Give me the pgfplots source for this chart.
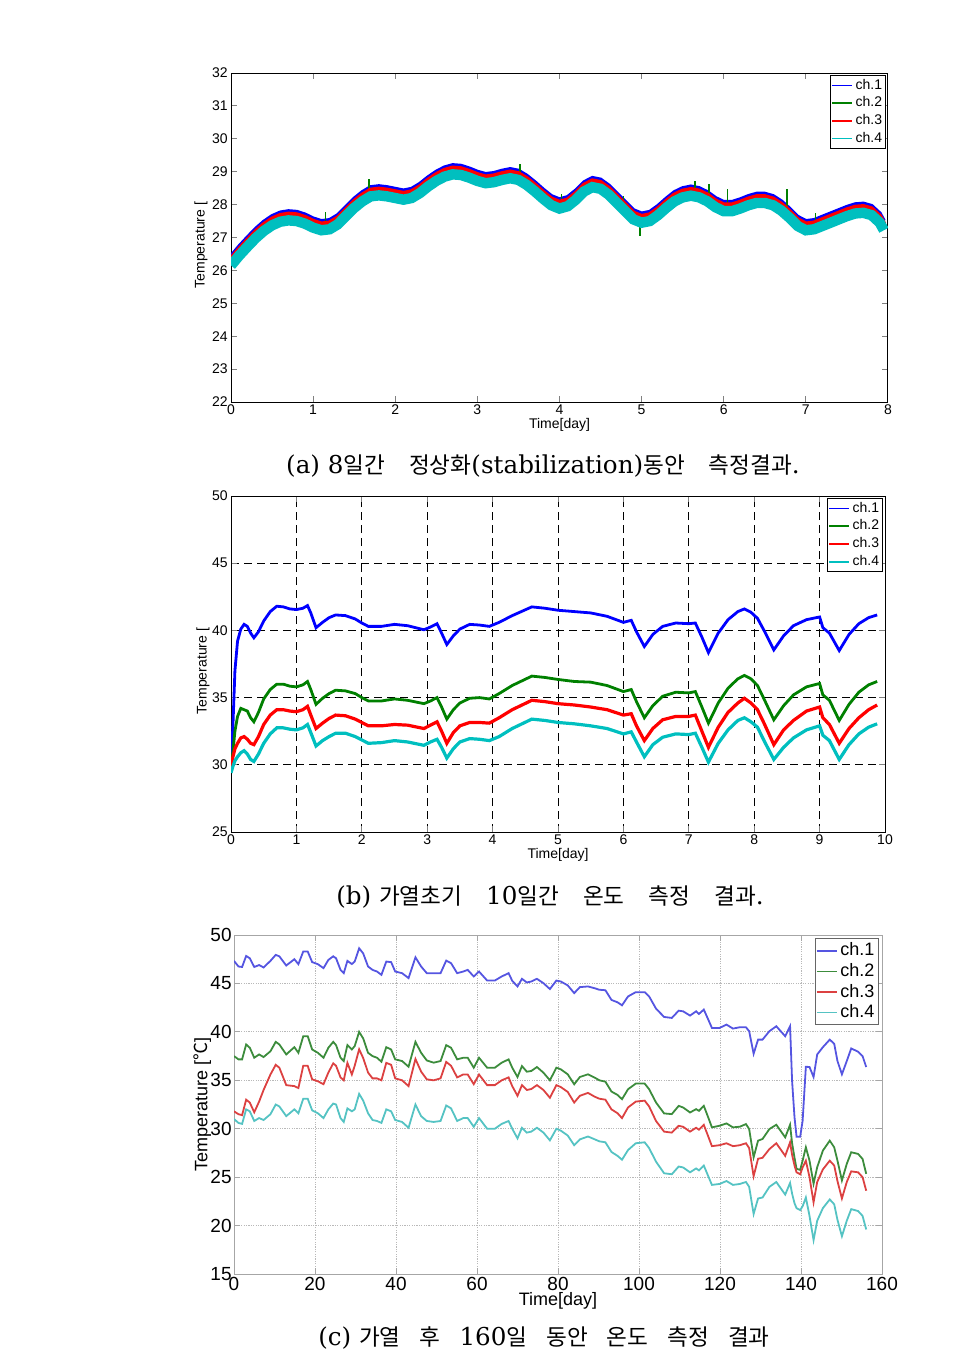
\documentclass[border=0pt]{standalone}
\usepackage{fontspec}
\setmainfont{Liberation Sans}
\newfontfamily\capserif{DejaVu Serif}
\newfontfamily\cjk{Noto Sans CJK KR}
\usepackage{pgfplots}
\usepackage{pgfplotstable}
\pgfplotsset{compat=1.18}

\newcommand\lat[1]{{\capserif\fontsize{12.3}{14}\selectfont #1}}
\newcommand\han[1]{{\cjk\fontsize{11.3}{14}\selectfont #1}}

\definecolor{mblue}{RGB}{0,0,255}
\definecolor{mgreen}{RGB}{0,128,0}
\definecolor{mred}{RGB}{255,0,0}
\definecolor{mcyan}{RGB}{0,191,191}
\definecolor{cblue}{RGB}{85,85,225}
\definecolor{cgreen}{RGB}{60,140,60}
\definecolor{cred}{RGB}{220,65,65}
\definecolor{ccyan}{RGB}{85,195,195}

% (a) 8 days stabilization
\pgfplotstableread{
x c1 c2 c3 c4
0.0 26.43 26.25 26.34 26.15
0.1 26.73 26.55 26.64 26.45
0.2 27.00 26.82 26.91 26.72
0.3 27.26 27.08 27.17 26.98
0.4 27.48 27.30 27.39 27.20
0.5 27.65 27.47 27.56 27.37
0.6 27.76 27.58 27.67 27.48
0.7 27.80 27.62 27.71 27.52
0.8 27.78 27.60 27.69 27.50
0.9 27.70 27.52 27.61 27.42
1.0 27.58 27.40 27.49 27.30
1.1 27.50 27.32 27.41 27.22
1.2 27.53 27.35 27.44 27.25
1.3 27.68 27.50 27.59 27.40
1.4 27.93 27.75 27.84 27.65
1.5 28.18 28.00 28.09 27.90
1.6 28.38 28.20 28.29 28.10
1.7 28.53 28.35 28.44 28.25
1.8 28.56 28.38 28.47 28.28
1.9 28.53 28.35 28.44 28.25
2.0 28.48 28.30 28.39 28.20
2.1 28.43 28.25 28.34 28.15
2.2 28.48 28.30 28.39 28.20
2.3 28.63 28.45 28.54 28.35
2.4 28.83 28.65 28.74 28.55
2.5 29.00 28.82 28.91 28.72
2.6 29.13 28.95 29.04 28.85
2.7 29.20 29.02 29.11 28.92
2.8 29.18 29.00 29.09 28.90
2.9 29.10 28.92 29.01 28.82
3.0 29.00 28.82 28.91 28.72
3.1 28.93 28.75 28.84 28.65
3.2 28.96 28.78 28.87 28.68
3.3 29.03 28.85 28.94 28.75
3.4 29.08 28.90 28.99 28.80
3.5 29.03 28.85 28.94 28.75
3.6 28.88 28.70 28.79 28.60
3.7 28.68 28.50 28.59 28.40
3.8 28.46 28.28 28.37 28.18
3.9 28.26 28.08 28.17 27.98
4.0 28.16 27.98 28.07 27.88
4.1 28.23 28.05 28.14 27.95
4.2 28.43 28.25 28.34 28.15
4.3 28.68 28.50 28.59 28.40
4.4 28.81 28.63 28.72 28.53
4.5 28.76 28.58 28.67 28.48
4.6 28.58 28.40 28.49 28.30
4.7 28.33 28.15 28.24 28.05
4.8 28.08 27.90 27.99 27.80
4.9 27.83 27.65 27.74 27.55
5.0 27.73 27.55 27.64 27.45
5.1 27.78 27.60 27.69 27.50
5.2 27.96 27.78 27.87 27.68
5.3 28.18 28.00 28.09 27.90
5.4 28.38 28.20 28.29 28.10
5.5 28.50 28.32 28.41 28.22
5.6 28.55 28.37 28.46 28.27
5.7 28.50 28.32 28.41 28.22
5.8 28.38 28.20 28.29 28.10
5.9 28.20 28.02 28.11 27.92
6.0 28.08 27.90 27.99 27.80
6.1 28.08 27.90 27.99 27.80
6.2 28.16 27.98 28.07 27.88
6.3 28.26 28.08 28.17 27.98
6.4 28.33 28.15 28.24 28.05
6.5 28.33 28.15 28.24 28.05
6.6 28.26 28.08 28.17 27.98
6.7 28.10 27.92 28.01 27.82
6.8 27.88 27.70 27.79 27.60
6.9 27.63 27.45 27.54 27.35
7.0 27.50 27.32 27.41 27.22
7.1 27.53 27.35 27.44 27.25
7.2 27.63 27.45 27.54 27.35
7.3 27.73 27.55 27.64 27.45
7.4 27.83 27.65 27.74 27.55
7.5 27.93 27.75 27.84 27.65
7.6 28.01 27.83 27.92 27.73
7.7 28.03 27.85 27.94 27.75
7.8 27.96 27.78 27.87 27.68
7.9 27.73 27.55 27.64 27.45
7.95 27.50 27.32 27.41 27.22
}\tabA

% (b) first 10 days of heating
\pgfplotstableread{
x c1 c2 c3 c4
0 29.8 29.9 29.8 29.4
0.03 33.0 31.0 30.6 29.9
0.06 37.0 32.5 31.2 30.3
0.1 39.2 33.6 31.6 30.6
0.15 40.1 34.2 32.0 30.9
0.2 40.45 34.1 32.1 31.05
0.25 40.3 34.0 31.9 30.8
0.3 39.8 33.5 31.6 30.4
0.35 39.45 33.2 31.5 30.25
0.42 39.9 33.9 32.1 30.8
0.5 40.7 34.9 33.0 31.6
0.6 41.4 35.6 33.7 32.3
0.7 41.8 36.0 34.1 32.75
0.8 41.75 36.0 34.1 32.75
0.9 41.6 35.85 34.0 32.65
1.0 41.55 35.8 33.95 32.6
1.1 41.65 35.95 34.1 32.75
1.17 41.85 36.2 34.35 33.0
1.22 41.3 35.6 33.7 32.4
1.3 40.2 34.5 32.7 31.4
1.4 40.6 34.95 33.1 31.8
1.5 40.95 35.3 33.45 32.1
1.6 41.15 35.55 33.7 32.35
1.75 41.1 35.5 33.65 32.35
1.9 40.85 35.3 33.4 32.1
2.0 40.55 35.0 33.15 31.85
2.1 40.3 34.75 32.9 31.6
2.3 40.3 34.75 32.9 31.65
2.5 40.45 34.9 33.0 31.8
2.7 40.35 34.8 32.95 31.7
2.95 40.05 34.55 32.7 31.45
3.05 40.25 34.75 32.95 31.7
3.15 40.5 35.0 33.2 31.9
3.22 39.8 34.3 32.5 31.3
3.3 38.95 33.4 31.6 30.5
3.4 39.6 34.1 32.4 31.2
3.5 40.1 34.6 32.9 31.7
3.65 40.45 34.95 33.15 31.95
3.8 40.4 35.0 33.15 31.9
3.95 40.3 34.9 33.1 31.8
4.1 40.6 35.3 33.5 32.1
4.3 41.1 35.9 34.1 32.7
4.6 41.75 36.6 34.8 33.4
4.8 41.65 36.5 34.7 33.3
5.0 41.5 36.35 34.55 33.15
5.25 41.4 36.2 34.45 33.05
5.5 41.3 36.15 34.3 32.9
5.75 41.05 35.9 34.1 32.7
6.0 40.6 35.45 33.7 32.3
6.12 40.75 35.6 33.8 32.45
6.2 39.9 34.7 32.9 31.7
6.32 38.8 33.5 31.8 30.6
6.45 39.7 34.4 32.7 31.5
6.6 40.3 35.1 33.35 32.05
6.8 40.55 35.4 33.6 32.3
7.0 40.5 35.35 33.6 32.25
7.1 40.55 35.45 33.7 32.35
7.2 39.5 34.3 32.5 31.3
7.3 38.35 33.1 31.3 30.2
7.45 39.8 34.6 32.8 31.6
7.6 40.8 35.7 33.9 32.6
7.75 41.4 36.4 34.6 33.3
7.85 41.6 36.65 34.95 33.5
7.95 41.35 36.4 34.6 33.2
8.05 40.9 35.9 34.1 32.8
8.15 40.0 34.9 33.1 31.8
8.3 38.55 33.35 31.5 30.4
8.45 39.6 34.4 32.6 31.3
8.6 40.35 35.2 33.3 32.0
8.8 40.8 35.8 34.0 32.6
9.0 41.0 36.05 34.3 32.9
9.05 40.2 35.2 33.5 32.2
9.15 39.8 34.8 33.0 31.8
9.3 38.5 33.3 31.6 30.4
9.45 39.7 34.5 32.7 31.5
9.6 40.5 35.4 33.5 32.3
9.75 40.95 35.95 34.1 32.8
9.88 41.15 36.2 34.45 33.05
}\tabB

% (c) 160 days after heating
\pgfplotstableread{
x c1 c2 c3 c4
0 47.33 37.5 31.8 31.0
1.1 46.75 37.16 31.5 30.6
2 46.7 37.16 31.4 30.5
3 47.84 38.7 33.0 32.0
3.9 47.6 38.36 32.7 31.8
5 46.7 37.33 31.7 30.8
6.2 46.9 37.67 32.8 31.1
7.3 46.65 37.4 34.0 30.9
9 47.33 38.0 35.6 31.5
10.3 47.95 38.97 36.6 32.5
11.2 47.8 38.7 36.3 32.3
12.9 46.85 37.67 34.5 31.3
14.9 47.5 38.42 34.4 32.0
15.9 46.99 37.84 34.2 31.6
17.1 48.3 39.55 36.5 33.1
18.2 48.3 39.55 36.5 33.1
19.3 47.2 38.18 35.1 31.9
20.7 46.99 37.84 34.9 31.6
22.1 46.58 37.33 34.6 31.1
23.3 47.43 38.36 35.8 32.0
24.5 47.8 38.97 36.75 32.6
25.2 47.6 38.63 36.5 32.5
26.3 46.4 37.33 35.3 31.1
27.1 46.06 36.99 35.0 30.7
28 47.33 38.63 36.8 32.1
29.1 47.0 38.18 35.6 31.8
29.8 47.26 38.53 36.5 32.0
30.9 48.63 40.0 38.2 33.6
31.9 48.1 39.32 37.3 32.9
33.1 46.75 37.84 35.8 31.6
34.2 46.4 37.5 35.2 30.9
35.3 46.23 37.33 35.2 30.8
36.4 45.89 36.92 35.0 30.6
37.6 47.26 38.42 36.8 32.0
38.8 47.2 38.18 36.6 31.8
39.8 46.23 37.16 35.2 30.9
41.5 46.06 36.99 35.0 30.7
43.1 45.55 36.4 34.4 30.1
44.8 47.7 38.97 37.2 32.5
46.2 46.75 37.84 35.9 31.3
47.6 46.06 37.05 35.1 30.8
49.3 46.06 36.82 35.0 30.7
51 46.06 36.99 35.2 30.8
52.4 47.36 38.63 36.9 32.4
53.6 47.09 38.36 36.5 32.1
55.1 46.06 37.16 35.3 30.8
56.6 46.23 37.33 35.6 31.1
57.7 46.4 37.33 35.6 31.1
59.2 45.72 36.3 34.6 30.2
60.5 46.23 37.33 35.6 31.1
62.5 45.3 36.3 34.5 30.0
64.4 45.3 36.3 34.5 30.0
66.1 45.72 36.82 35.0 30.5
67.8 46.06 37.16 35.3 30.8
68.7 45.27 36.3 34.4 30.0
70 44.69 35.34 33.4 29.0
71.1 45.48 36.47 34.5 30.1
72.3 45.1 35.89 34.0 29.6
73.4 45.2 35.96 34.1 29.7
74.8 45.48 36.37 34.5 30.1
76.4 45.03 35.79 34.0 29.6
78 44.42 35.0 33.2 28.8
79.6 45.3 36.3 34.5 30.0
80.7 45.2 36.13 34.3 29.8
82.4 44.8 35.62 33.8 29.3
84 44.0 34.59 32.7 28.3
85.4 44.62 35.34 33.4 28.9
87.4 44.69 35.62 33.7 29.2
89.1 44.5 35.27 33.3 28.9
90.2 44.35 35.0 33.1 28.7
91.7 44.3 34.86 33.0 28.6
93.2 43.3 33.84 32.0 27.6
94.7 43.05 33.49 31.6 27.2
95.8 42.74 33.05 31.1 26.8
97.3 43.66 34.08 32.2 27.8
99.2 44.1 34.66 32.8 28.5
101.4 44.1 34.66 32.9 28.6
102.5 43.66 34.08 32.3 28.0
104.2 42.4 32.71 30.8 26.6
106.2 41.54 31.58 29.7 25.4
108.1 41.44 31.51 29.6 25.3
109.8 42.19 32.36 30.3 26.1
110.9 42.12 32.19 30.2 26.0
112.6 41.68 31.68 29.7 25.5
114.1 42.12 32.02 30.1 25.9
114.8 41.85 31.85 29.9 25.7
116 42.3 32.36 30.4 26.2
117.1 41.27 31.16 29.2 25.1
118 40.41 30.14 28.2 24.2
119.9 40.41 30.31 28.3 24.3
121.6 40.75 30.55 28.5 24.6
123.2 40.34 30.14 28.2 24.2
124.9 40.48 30.21 28.3 24.3
126.4 40.48 30.48 28.5 24.5
127.2 40.07 29.97 28.0 24.0
128.3 37.74 27.05 25.1 21.2
129.4 39.2 28.77 26.9 22.8
130.5 39.2 28.94 27.0 22.9
132.2 40.07 29.97 27.9 24.0
133.9 40.58 30.41 28.5 24.5
136.1 39.55 29.11 27.2 23.2
137.3 40.58 30.41 28.6 24.4
137.8 34.93 28.5 27.3 23.3
138.4 31.16 27.0 26.2 22.3
138.9 29.18 25.86 25.5 21.8
139.8 29.18 25.75 25.3 21.6
140.4 30.82 26.71 26.0 22.0
141.2 36.4 28.08 26.7 22.9
142.1 36.37 26.71 25.0 21.0
143.1 35.34 24.32 22.4 18.5
144 37.67 26.03 24.5 20.5
145.4 38.42 27.74 25.8 21.8
147.1 39.2 28.77 26.7 22.7
148.2 38.77 28.08 26.2 22.2
149 36.99 26.71 24.6 20.6
150.1 35.62 24.66 22.8 18.9
151.3 36.99 26.37 24.5 20.5
152.4 38.29 27.57 25.6 21.7
154.1 37.95 27.4 25.5 21.5
155.2 37.5 26.88 25.0 21.0
156.1 36.37 25.34 23.6 19.6
}\tabC

\pgfplotsset{
  matfig/.style={
    scale only axis,
    anchor=south west,
    axis line style={line width=0.5pt},
    tick style={line width=0.5pt},
    major tick length=3pt,
    tick align=inside,
    /pgf/number format/assume math mode=true,
    legend cell align=left,
    legend image code/.code={\draw[##1, line width=0.8pt] (0pt,0pt) -- (10pt,0pt);},
  },
}

\begin{document}
\begin{tikzpicture}
\path[use as bounding box] (0pt,0pt) rectangle (488pt,-682.5pt);

% ---------- (a) ----------
\begin{axis}[matfig,
  at={(115.5pt,-201pt)}, width=328.5pt, height=164.5pt,
  xmin=0, xmax=8, ymin=22, ymax=32,
  xtick={0,...,8}, ytick={22,...,32},
  tick label style={font=\fontsize{7}{8}\selectfont},
  xticklabel style={inner sep=1pt},
  yticklabel style={inner sep=1.5pt},
  xlabel={Time[day]}, ylabel={Temperature [},
  xlabel style={font=\fontsize{7}{8}\selectfont, at={(axis description cs:0.5,-0.07)}, anchor=center},
  ylabel style={font=\fontsize{7}{8}\selectfont, at={(axis description cs:-0.0457,0.477)}, anchor=center},
  legend style={at={(axis description cs:0.997,0.994)}, anchor=north east,
    font=\fontsize{7}{8}\selectfont, inner sep=0.5pt, row sep=-0.1pt,
    draw=black, line width=0.5pt, nodes={inner sep=1.2pt}},
]
\addplot[mblue, line width=2pt] table[x=x, y=c1] {\tabA};
\addlegendentry{ch.1}
\addplot[mgreen, line width=1pt] table[x=x, y=c2] {\tabA};
\addlegendentry{ch.2}
\addplot[mgreen, line width=0.6pt, forget plot, unbounded coords=jump] coordinates {
 (1.15,27.3) (1.15,27.78) (1.15,nan)
 (1.68,28.3) (1.68,28.78) (1.68,nan)
 (3.52,28.8) (3.52,29.22) (3.52,nan)
 (4.02,27.9) (4.02,28.32) (4.02,nan)
 (4.78,27.9) (4.78,28.25) (4.78,nan)
 (4.98,27.5) (4.98,27.05) (4.98,nan)
 (5.65,28.3) (5.65,28.72) (5.65,nan)
 (5.82,28.2) (5.82,28.62) (5.82,nan)
 (6.05,27.9) (6.05,28.47) (6.05,nan)
 (6.77,27.9) (6.77,28.48) (6.77,nan)
 (7.12,27.3) (7.12,27.75)
};
\addplot[mred, line width=2.5pt] table[x=x, y=c3] {\tabA};
\addlegendentry{ch.3}
\addplot[mcyan, line width=5.2pt] table[x=x, y=c4] {\tabA};
\addlegendentry{ch.4}
\end{axis}

% ---------- (b) ----------
\begin{axis}[matfig,
  at={(115.5pt,-416pt)}, width=327pt, height=168pt,
  xmin=0, xmax=10, ymin=25, ymax=50,
  xtick={0,...,10}, ytick={25,30,...,50},
  grid=major, major grid style={black, line width=0.5pt, dash pattern=on 4pt off 2.5pt},
  tick label style={font=\fontsize{7}{8}\selectfont},
  xticklabel style={inner sep=1pt},
  yticklabel style={inner sep=1.5pt},
  xlabel={Time[day]}, ylabel={Temperature [},
  xlabel style={font=\fontsize{7}{8}\selectfont, at={(axis description cs:0.5,-0.068)}, anchor=center},
  ylabel style={font=\fontsize{7}{8}\selectfont, at={(axis description cs:-0.043,0.479)}, anchor=center},
  legend style={at={(axis description cs:0.997,0.994)}, anchor=north east,
    font=\fontsize{7}{8}\selectfont, inner sep=0.5pt, row sep=-0.1pt,
    draw=black, line width=0.5pt, nodes={inner sep=1.2pt}},
]
\addplot[mblue, line width=1.4pt] table[x=x, y=c1] {\tabB};
\addlegendentry{ch.1}
\addplot[mgreen, line width=1.4pt] table[x=x, y=c2] {\tabB};
\addlegendentry{ch.2}
\addplot[mred, line width=1.6pt] table[x=x, y=c3] {\tabB};
\addlegendentry{ch.3}
\addplot[mcyan, line width=1.6pt] table[x=x, y=c4] {\tabB};
\addlegendentry{ch.4}
\end{axis}

% ---------- (c) ----------
\begin{axis}[matfig,
  at={(117pt,-637pt)}, width=324pt, height=169.5pt,
  xmin=0, xmax=160, ymin=15, ymax=50,
  xtick={0,20,...,160}, ytick={15,20,...,50},
  axis line style={gray!70, line width=0.5pt},
  tick style={gray!70},
  grid=major, major grid style={gray!55, line width=0.5pt, dash pattern=on 0.6pt off 0.6pt},
  tick label style={font=\fontsize{9.5}{10}\selectfont},
  xticklabel style={inner sep=1.5pt},
  yticklabel style={inner sep=1pt},
  xlabel={Time[day]}, ylabel={Temperature [{\cjk ℃}]},
  xlabel style={font=\fontsize{9}{10}\selectfont, at={(axis description cs:0.5,-0.08)}, anchor=center},
  ylabel style={font=\fontsize{9}{10}\selectfont, at={(axis description cs:-0.049,0.5)}, anchor=center},
  legend style={at={(axis description cs:0.995,0.99)}, anchor=north east,
    font=\fontsize{9}{10}\selectfont, inner sep=0.5pt, row sep=-0.5pt,
    draw=gray!80!black, line width=0.5pt, nodes={inner sep=1.4pt}},
]
\addplot[cblue, line width=0.9pt] table[x=x, y=c1] {\tabC};
\addlegendentry{ch.1}
\addplot[cgreen, line width=0.9pt] table[x=x, y=c2] {\tabC};
\addlegendentry{ch.2}
\addplot[cred, line width=0.9pt] table[x=x, y=c3] {\tabC};
\addlegendentry{ch.3}
\addplot[ccyan, line width=0.9pt] table[x=x, y=c4] {\tabC};
\addlegendentry{ch.4}
\end{axis}

% ---------- captions ----------
\node[anchor=center, inner sep=0pt] at (271.5pt,-233pt)
  {\lat{(a) 8}\han{일간}\hspace{12pt}\han{정상화}\lat{(stabilization)}\han{동안}\hspace{12pt}\han{측정결과}\lat{.}};
\node[anchor=center, inner sep=0pt] at (275pt,-448.5pt)
  {\lat{(b) }\han{가열초기}\hspace{12pt}\lat{10}\han{일간}\hspace{12pt}\han{온도}\hspace{12pt}\han{측정}\hspace{12pt}\han{결과}\lat{.}};
\node[anchor=center, inner sep=0pt] at (272pt,-669pt)
  {\lat{(c) }\han{가열}\hspace{9.5pt}\han{후}\hspace{9.5pt}\lat{160}\han{일}\hspace{9.5pt}\han{동안}\hspace{9.5pt}\han{온도}\hspace{9.5pt}\han{측정}\hspace{9.5pt}\han{결과}};
\end{tikzpicture}
\end{document}
